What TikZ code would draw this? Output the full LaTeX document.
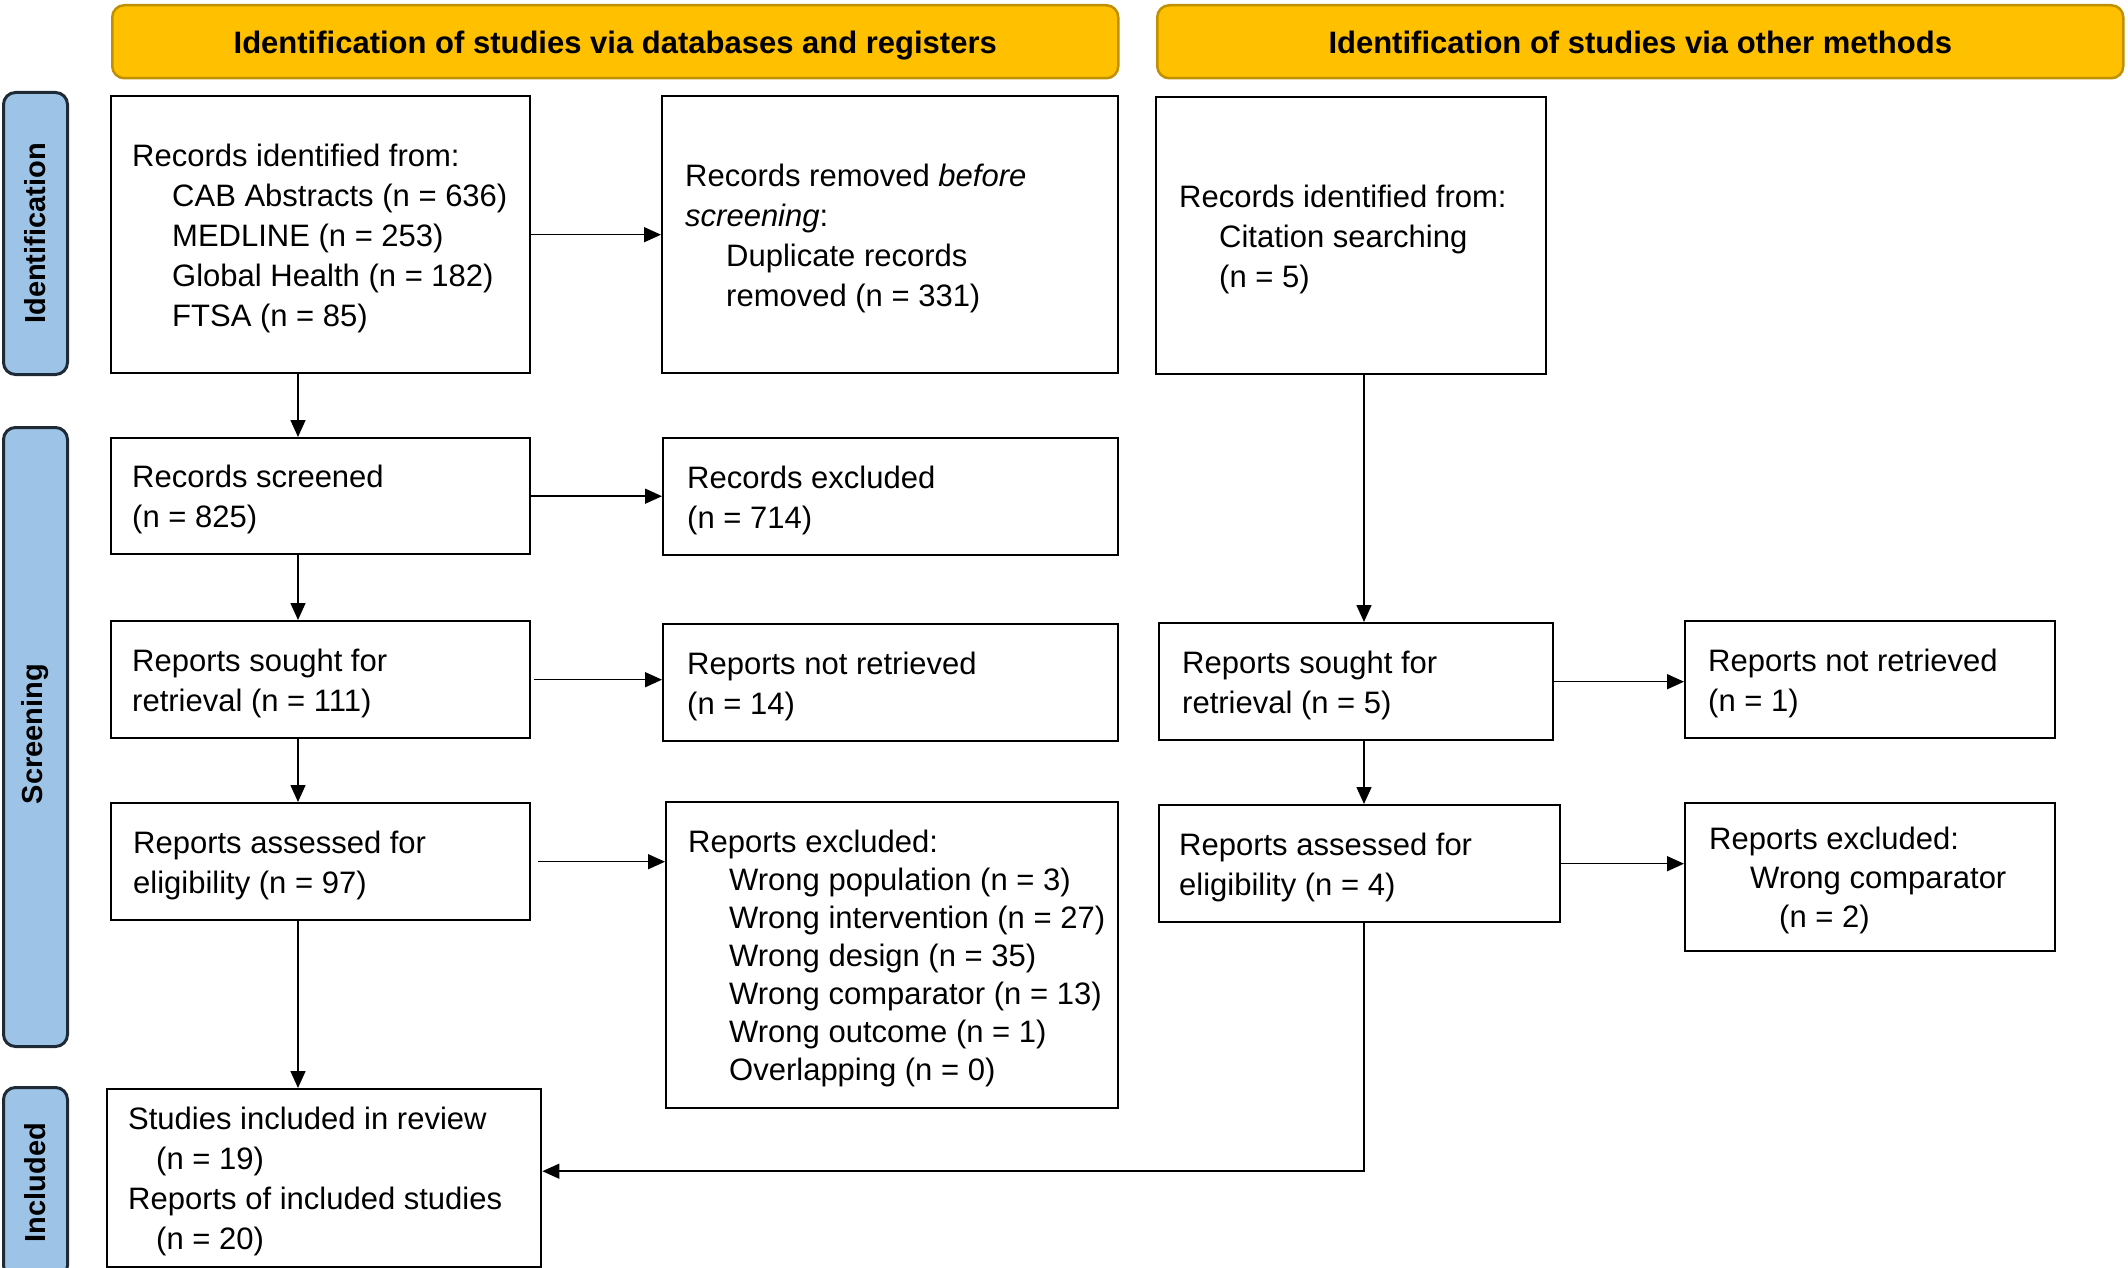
\documentclass[tikz,border=0pt]{standalone}
\usepackage{fontspec}
\setmainfont{Liberation Sans}
\usetikzlibrary{arrows.meta}
\definecolor{hdrfill}{HTML}{FFC000}
\definecolor{hdrline}{HTML}{BF9000}
\definecolor{sidefill}{HTML}{9DC3E6}
\definecolor{sideline}{HTML}{1E2A36}
\newcommand\myind[1][40pt]{\hspace*{#1}}
\begin{document}
\begin{tikzpicture}[x=1pt,y=-1pt,
  bx/.style={draw=black, line width=2.4pt, anchor=north west, inner sep=0pt},
  txt/.style={anchor=west, align=left, inner sep=0pt, yshift=-3.5pt, font=\fontsize{31}{40}\selectfont},
  hdr/.style={draw=hdrline, fill=hdrfill, line width=2.5pt, rounded corners=12pt, anchor=north west, inner sep=0pt},
  side/.style={draw=sideline, fill=sidefill, line width=3pt, rounded corners=12pt, anchor=north west, inner sep=0pt},
  sidetxt/.style={rotate=90, font=\bfseries\fontsize{29}{35}\selectfont, inner sep=0pt},
  hdrtxt/.style={font=\bfseries\fontsize{31}{37}\selectfont, inner sep=0pt, anchor=base},
  conn/.style={line width=1.5pt, -{Triangle[length=17pt,width=15pt]}}
]
\useasboundingbox (0,0) rectangle (2128,1268);
\clip (0,0) rectangle (2128,1268);

% headers
\node[hdr, minimum width=1006pt, minimum height=73pt] (h1) at (111,4) {};
\node[hdrtxt] (h1t) at ([yshift=-12pt]h1.center) {Identification of studies via databases and registers};
\node[hdr, minimum width=966pt, minimum height=73pt] (h2) at (1156,4) {};
\node[hdrtxt] (h2t) at ([yshift=-12pt]h2.center) {Identification of studies via other methods};

% side labels
\node[side, minimum width=64pt, minimum height=282pt] (s1) at (2,91) {};
\node[sidetxt] (s1t) at (s1.center) {Identification};
\node[side, minimum width=64pt, minimum height=619pt] (s2) at (2,426) {};
\node[sidetxt] (s2t) at ([yshift=3pt]s2.center) {Screening};
\node[side, minimum width=64pt, minimum height=190pt] (s3) at (2,1086) {};
\node[sidetxt] (s3t) at (s3.center) {Included};

% left column
\node[bx, minimum width=419pt, minimum height=277pt] (A) at (110,95) {};
\node[txt] (At) at ([xshift=22pt]A.west) {Records identified from:\\\myind CAB Abstracts (n = 636)\\\myind MEDLINE (n = 253)\\\myind Global Health (n = 182)\\\myind FTSA (n = 85)};

\node[bx, minimum width=456pt, minimum height=277pt] (B) at (661,95) {};
\node[txt] (Bt) at ([xshift=24pt]B.west) {Records removed \textit{before}\\\textit{screening}:\\\myind[41pt]Duplicate records\\\myind[41pt]removed (n = 331)};

\node[bx, minimum width=419pt, minimum height=116pt] (D) at (110,437) {};
\node[txt] (Dt) at ([xshift=22pt]D.west) {Records screened\\(n = 825)};

\node[bx, minimum width=455pt, minimum height=117pt] (E) at (662,437) {};
\node[txt] (Et) at ([xshift=25pt]E.west) {Records excluded\\(n = 714)};

\node[bx, minimum width=419pt, minimum height=117pt] (F) at (110,620) {};
\node[txt] (Ft) at ([xshift=22pt]F.west) {Reports sought for\\retrieval (n = 111)};

\node[bx, minimum width=455pt, minimum height=117pt] (G) at (662,623) {};
\node[txt] (Gt) at ([xshift=25pt]G.west) {Reports not retrieved\\(n = 14)};

\node[bx, minimum width=419pt, minimum height=117pt] (H) at (110,802) {};
\node[txt] (Ht) at ([xshift=23pt]H.west) {Reports assessed for\\eligibility (n = 97)};

\node[bx, minimum width=452pt, minimum height=306pt] (I) at (665,801) {};
\node[txt, font=\fontsize{31}{38}\selectfont] (It) at ([xshift=23pt]I.west) {Reports excluded:\\\myind[41pt]Wrong population (n = 3)\\\myind[41pt]Wrong intervention (n = 27)\\\myind[41pt]Wrong design (n = 35)\\\myind[41pt]Wrong comparator (n = 13)\\\myind[41pt]Wrong outcome (n = 1)\\\myind[41pt]Overlapping (n = 0)};

\node[bx, minimum width=434pt, minimum height=178pt] (N) at (106,1088) {};
\node[txt] (Nt) at ([xshift=22pt]N.west) {Studies included in review\\\myind[28pt](n = 19)\\Reports of included studies\\\myind[28pt](n = 20)};

% right column
\node[bx, minimum width=390pt, minimum height=277pt] (C) at (1155,96) {};
\node[txt] (Ct) at ([xshift=24pt]C.west) {Records identified from:\\\myind Citation searching\\\myind(n = 5)};

\node[bx, minimum width=394pt, minimum height=117pt] (J) at (1158,622) {};
\node[txt] (Jt) at ([xshift=24pt]J.west) {Reports sought for\\retrieval (n = 5)};

\node[bx, minimum width=370pt, minimum height=117pt] (K) at (1684,620) {};
\node[txt] (Kt) at ([xshift=24pt]K.west) {Reports not retrieved\\(n = 1)};

\node[bx, minimum width=401pt, minimum height=117pt] (L) at (1158,804) {};
\node[txt] (Lt) at ([xshift=21pt]L.west) {Reports assessed for\\eligibility (n = 4)};

\node[bx, minimum width=370pt, minimum height=148pt] (M) at (1684,802) {};
\node[txt, font=\fontsize{31}{39}\selectfont] (Mt) at ([xshift=25pt]M.west) {Reports excluded:\\\myind[41pt]Wrong comparator\\\myind[70pt](n = 2)};

% connectors
\coordinate (colL) at (298,0);
\coordinate (colR) at (1364,0);
\draw[conn] (A.south -| colL) -- (D.north -| colL);
\draw[conn] (D.south -| colL) -- (F.north -| colL);
\draw[conn] (F.south -| colL) -- (H.north -| colL);
\draw[conn] (H.south -| colL) -- (N.north -| colL);
\draw[conn] (A.east) -- (A.east -| B.west);
\draw[conn] (D.east) -- (D.east -| E.west);
\draw[conn] ([xshift=3pt]F.east) -- (F.east -| G.west);
\draw[conn] ([xshift=7pt]H.east) -- (H.east -| I.west);
\draw[conn] (C.south -| colR) -- (J.north -| colR);
\draw[conn] (J.east) -- (J.east -| K.west);
\draw[conn] (J.south -| colR) -- (L.north -| colR);
\draw[conn] (L.east) -- (L.east -| M.west);
\draw[conn] (L.south -| colR) |- ([yshift=7pt]N.east);
\end{tikzpicture}
\end{document}
